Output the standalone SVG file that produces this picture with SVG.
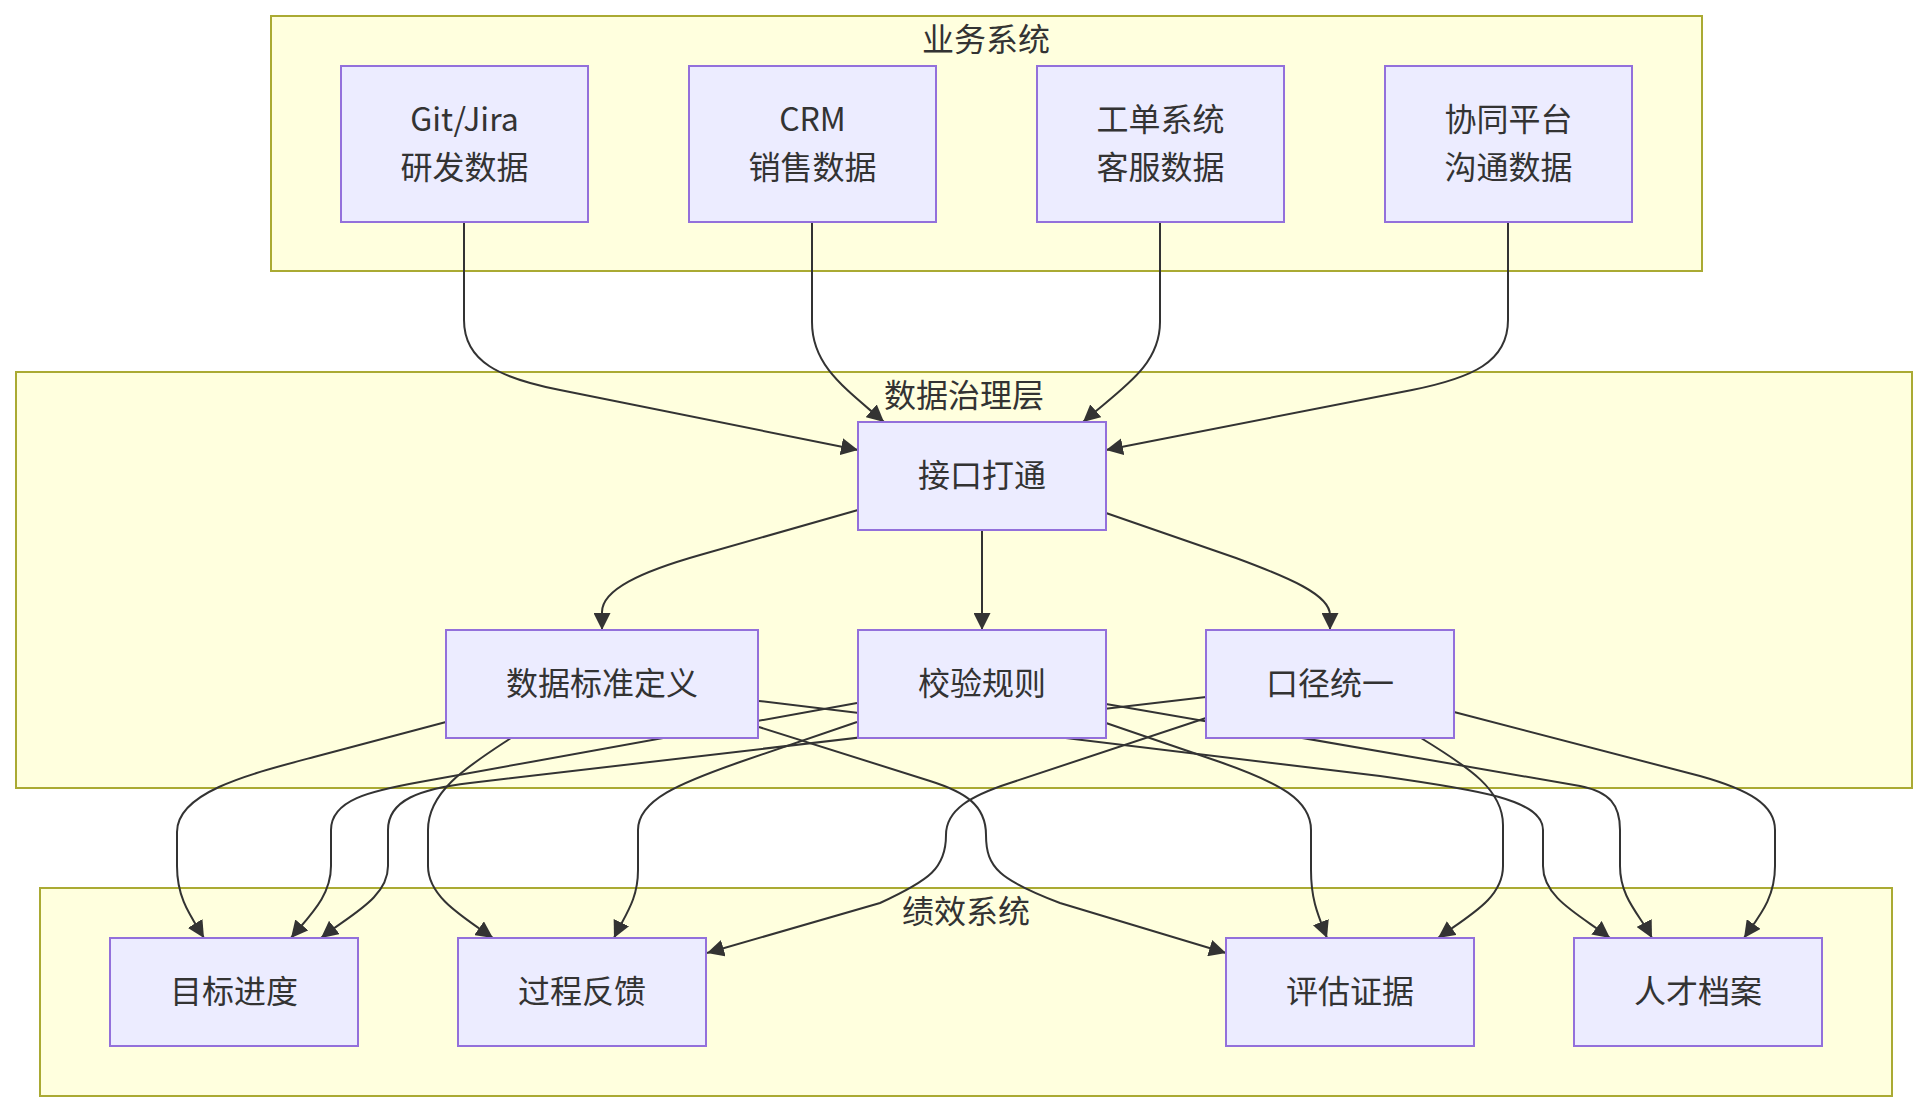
<svg xmlns="http://www.w3.org/2000/svg" width="1928" height="1112" viewBox="0 0 1928 1112">
<style>
.cluster{fill:#ffffde;stroke:#aaaa33;stroke-width:2}
.node rect{fill:#ECECFF;stroke:#9370DB;stroke-width:2}
text{font-family:"Noto Sans CJK SC","Noto Sans",sans-serif;font-size:32px;fill:#333;text-anchor:middle;dominant-baseline:central}
.edge{fill:none;stroke:#333;stroke-width:2;marker-end:url(#arrow)}
</style>
<defs>
<marker id="arrow" viewBox="0 0 10 10" refX="10" refY="5" markerUnits="userSpaceOnUse" markerWidth="17" markerHeight="17" orient="auto" preserveAspectRatio="none">
<path d="M0,0 L10,5 L0,10 z" fill="#333"/>
</marker>
</defs>
<rect width="1928" height="1112" fill="#ffffff"/>
<g id="clusters">
<g id="cluster-biz"><rect class="cluster" x="271" y="16" width="1431" height="255"/><text x="986" y="37">业务系统</text></g>
<g id="cluster-gov"><rect class="cluster" x="16" y="372" width="1896" height="416"/><text x="964" y="393">数据治理层</text></g>
<g id="cluster-perf"><rect class="cluster" x="40" y="888" width="1852" height="208"/><text x="966" y="909">绩效系统</text></g>
</g>
<g id="edges">
<path class="edge" d="M464,222 V320 C464,362 500,378 560,390 L858,450"/>
<path class="edge" d="M812,222 V322 C812,366 845,388 884,422"/>
<path class="edge" d="M1160,222 V322 C1160,366 1122,388 1083,422"/>
<path class="edge" d="M1508,222 V320 C1508,362 1472,378 1412,390 L1106,450"/>
<path class="edge" d="M858,510 L700,555 C640,572 602,590 602,612 L602,630"/>
<path class="edge" d="M982,530 V630"/>
<path class="edge" d="M1106,513 L1236,558 C1290,578 1330,595 1330,615 L1330,630"/>
<path class="edge" d="M446,722 L314,757 C250,774 177,792 177,832 L177,866 C177,898 190,915 204,938"/>
<path class="edge" d="M511,738 C470,765 428,790 428,830 L428,866 C428,896 460,915 493,938"/>
<path class="edge" d="M759,727 L930,781 C965,792 986,805 986,835 C986,868 1000,880 1060,903 L1226,953"/>
<path class="edge" d="M759,701 L1380,776 C1480,790 1543,800 1543,830 L1543,866 C1543,898 1580,915 1610,938"/>
<path class="edge" d="M857,703 L420,782 C370,791 331,800 331,830 L331,866 C331,896 310,915 291,938"/>
<path class="edge" d="M857,722 L740,762 C680,783 638,800 638,830 L638,870 C638,900 625,915 614,938"/>
<path class="edge" d="M1106,723 L1220,762 C1280,783 1311,800 1311,830 L1311,870 C1311,900 1318,915 1327,938"/>
<path class="edge" d="M1106,704 L1580,786 C1610,792 1620,805 1620,830 L1620,866 C1620,898 1640,915 1652,938"/>
<path class="edge" d="M1206,697 L470,783 C420,789 388,800 388,830 L388,866 C388,898 350,915 321,938"/>
<path class="edge" d="M1206,718 L1010,783 C970,796 946,810 946,835 C946,868 930,880 880,903 L707,953"/>
<path class="edge" d="M1421,738 C1470,768 1503,790 1503,825 L1503,866 C1503,898 1470,915 1438,938"/>
<path class="edge" d="M1454,712 L1700,776 C1750,790 1775,805 1775,830 L1775,866 C1775,898 1760,915 1744,938"/>
</g>
<g id="nodes">
<g id="n-git" class="node"><rect x="341" y="66" width="247" height="156"/><text x="464.5" y="117">Git/Jira</text><text x="464.5" y="165">研发数据</text></g>
<g id="n-crm" class="node"><rect x="689" y="66" width="247" height="156"/><text x="812.5" y="117">CRM</text><text x="812.5" y="165">销售数据</text></g>
<g id="n-ticket" class="node"><rect x="1037" y="66" width="247" height="156"/><text x="1160.5" y="117">工单系统</text><text x="1160.5" y="165">客服数据</text></g>
<g id="n-collab" class="node"><rect x="1385" y="66" width="247" height="156"/><text x="1508.5" y="117">协同平台</text><text x="1508.5" y="165">沟通数据</text></g>
<g id="n-api" class="node"><rect x="858" y="422" width="248" height="108"/><text x="982" y="473">接口打通</text></g>
<g id="n-std" class="node"><rect x="446" y="630" width="312" height="108"/><text x="602" y="681">数据标准定义</text></g>
<g id="n-rule" class="node"><rect x="858" y="630" width="248" height="108"/><text x="982" y="681">校验规则</text></g>
<g id="n-unify" class="node"><rect x="1206" y="630" width="248" height="108"/><text x="1330" y="681">口径统一</text></g>
<g id="n-goal" class="node"><rect x="110" y="938" width="248" height="108"/><text x="234" y="989">目标进度</text></g>
<g id="n-feedback" class="node"><rect x="458" y="938" width="248" height="108"/><text x="582" y="989">过程反馈</text></g>
<g id="n-evidence" class="node"><rect x="1226" y="938" width="248" height="108"/><text x="1350" y="989">评估证据</text></g>
<g id="n-talent" class="node"><rect x="1574" y="938" width="248" height="108"/><text x="1698" y="989">人才档案</text></g>
</g>
</svg>
